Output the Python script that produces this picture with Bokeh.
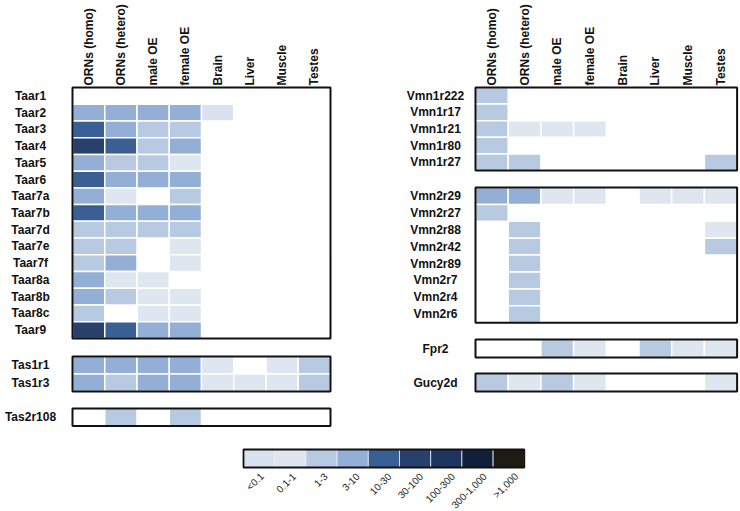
import numpy as np
from bokeh.plotting import figure
from bokeh.models import Range1d, ColumnDataSource
from bokeh.core.properties import value
from bokeh.embed import file_html
from bokeh.resources import INLINE

# ---------------- data ----------------
columns = ["ORNs (homo)", "ORNs (hetero)", "male OE", "female OE",
           "Brain", "Liver", "Muscle", "Testes"]
bins = ["<0.1", "0.1-1", "1-3", "3-10", "10-30", "30-100",
        "100-300", "300-1,000", ">1,000"]
bin_colors = ["#d9e2ee", "#dee6f0", "#b8c9e2", "#94afd5", "#3a5f94",
              "#27416c", "#1d355f", "#121f3c", "#1d1b12"]

# level codes: 0 = not detected, k = bins[k-1]
taar_genes = ["Taar1", "Taar2", "Taar3", "Taar4", "Taar5", "Taar6", "Taar7a",
              "Taar7b", "Taar7d", "Taar7e", "Taar7f", "Taar8a", "Taar8b",
              "Taar8c", "Taar9"]
taar_levels = [
    [0, 0, 0, 0, 0, 0, 0, 0],
    [4, 4, 4, 4, 1, 0, 0, 0],
    [5, 4, 3, 3, 0, 0, 0, 0],
    [6, 5, 3, 4, 0, 0, 0, 0],
    [4, 3, 3, 2, 0, 0, 0, 0],
    [5, 4, 4, 4, 0, 0, 0, 0],
    [4, 2, 0, 3, 0, 0, 0, 0],
    [5, 4, 4, 4, 0, 0, 0, 0],
    [3, 3, 3, 3, 0, 0, 0, 0],
    [3, 3, 0, 2, 0, 0, 0, 0],
    [3, 4, 0, 2, 0, 0, 0, 0],
    [4, 2, 2, 0, 0, 0, 0, 0],
    [4, 3, 2, 2, 0, 0, 0, 0],
    [3, 0, 2, 2, 0, 0, 0, 0],
    [6, 5, 4, 4, 0, 0, 0, 0],
]
tas1r_genes = ["Tas1r1", "Tas1r3"]
tas1r_levels = [
    [4, 4, 4, 4, 2, 0, 2, 3],
    [4, 3, 4, 4, 2, 2, 2, 3],
]
tas2r_genes = ["Tas2r108"]
tas2r_levels = [[0, 3, 0, 3, 0, 0, 0, 0]]

vmn1r_genes = ["Vmn1r222", "Vmn1r17", "Vmn1r21", "Vmn1r80", "Vmn1r27"]
vmn1r_levels = [
    [3, 0, 0, 0, 0, 0, 0, 0],
    [3, 0, 0, 0, 0, 0, 0, 0],
    [3, 2, 2, 2, 0, 0, 0, 0],
    [3, 0, 0, 0, 0, 0, 0, 0],
    [3, 3, 0, 0, 0, 0, 0, 3],
]
vmn2r_genes = ["Vmn2r29", "Vmn2r27", "Vmn2r88", "Vmn2r42", "Vmn2r89",
               "Vmn2r7", "Vmn2r4", "Vmn2r6"]
vmn2r_levels = [
    [4, 4, 2, 2, 0, 2, 2, 2],
    [3, 0, 0, 0, 0, 0, 0, 0],
    [0, 3, 0, 0, 0, 0, 0, 2],
    [0, 3, 0, 0, 0, 0, 0, 3],
    [0, 3, 0, 0, 0, 0, 0, 0],
    [0, 3, 0, 0, 0, 0, 0, 0],
    [0, 3, 0, 0, 0, 0, 0, 0],
    [0, 3, 0, 0, 0, 0, 0, 0],
]
fpr_genes = ["Fpr2"]
fpr_levels = [[0, 0, 3, 2, 0, 3, 2, 2]]
gucy_genes = ["Gucy2d"]
gucy_levels = [[3, 2, 3, 2, 0, 0, 0, 2]]

# ---------------- layout (page pixels) ----------------
W, H = 740, 511
FONT = "Liberation Sans"


def X(px):
    return px


def Y(py):
    return H - py


left_panel = dict(x0=72.0, cw=32.25, label_x=30.0)
right_panel = dict(x0=475.0, cw=32.7, label_x=435.0)

blocks = [
    (taar_genes, taar_levels, left_panel, 87.0, 16.73),
    (tas1r_genes, tas1r_levels, left_panel, 356.0, 17.5),
    (tas2r_genes, tas2r_levels, left_panel, 408.0, 17.5),
    (vmn1r_genes, vmn1r_levels, right_panel, 87.0, 16.6),
    (vmn2r_genes, vmn2r_levels, right_panel, 187.0, 16.9),
    (fpr_genes, fpr_levels, right_panel, 339.0, 18.0),
    (gucy_genes, gucy_levels, right_panel, 373.0, 18.0),
]

p = figure(width=W, height=H, output_backend="svg", toolbar_location=None,
           x_range=Range1d(0, W), y_range=Range1d(0, H),
           min_border=0, min_border_left=0, min_border_right=0,
           min_border_top=0, min_border_bottom=0)
p.axis.visible = False
p.grid.visible = False
p.outline_line_color = None
p.background_fill_color = "white"
p.border_fill_color = "white"

cell = dict(left=[], right=[], top=[], bottom=[], color=[])
boxes = dict(left=[], right=[], top=[], bottom=[])
rlab = dict(x=[], y=[], text=[])

for genes, levels, panel, top, rh in blocks:
    x0, cw = panel["x0"], panel["cw"]
    arr = np.array(levels)
    for i, g in enumerate(genes):
        yt = top + i * rh
        rlab["x"].append(X(panel["label_x"]))
        rlab["y"].append(Y(yt + rh / 2))
        rlab["text"].append(g)
        for j in range(len(columns)):
            lv = int(arr[i, j])
            if lv == 0:
                continue
            cell["left"].append(X(x0 + j * cw))
            cell["right"].append(X(x0 + (j + 1) * cw))
            cell["top"].append(Y(yt))
            cell["bottom"].append(Y(yt + rh))
            cell["color"].append(bin_colors[lv - 1])
    boxes["left"].append(X(x0))
    boxes["right"].append(X(x0 + len(columns) * panel["cw"]))
    boxes["top"].append(Y(top))
    boxes["bottom"].append(Y(top + len(genes) * rh))

p.quad(left="left", right="right", top="top", bottom="bottom",
       fill_color="color", line_color="white", line_width=1.5,
       source=ColumnDataSource(cell))
p.quad(left="left", right="right", top="top", bottom="bottom",
       fill_color=None, line_color="#111111", line_width=2,
       source=ColumnDataSource(boxes))

p.text(x="x", y="y", text="text", source=ColumnDataSource(rlab),
       text_font=value(FONT), text_font_style="bold",
       text_font_size="12px", text_align="center",
       text_baseline="middle", text_color="#111111")

# column headers
clab = dict(x=[], y=[], text=[])
for panel in (left_panel, right_panel):
    for j, c in enumerate(columns):
        clab["x"].append(X(panel["x0"] + (j + 0.5) * panel["cw"]))
        clab["y"].append(Y(85))
        clab["text"].append(c)
p.text(x="x", y="y", text="text", source=ColumnDataSource(clab),
       angle=np.pi / 2, text_font=value(FONT), text_font_style="bold",
       text_font_size="12px", text_align="left", text_baseline="middle",
       text_color="#111111")

# colour legend
cb_x0, cb_w, cb_top, cb_bot = 243.0, 31.2, 449.0, 467.0
leg = dict(left=[], right=[], top=[], bottom=[], color=[])
llab = dict(x=[], y=[], text=[])
for k, b in enumerate(bins):
    leg["left"].append(X(cb_x0 + k * cb_w))
    leg["right"].append(X(cb_x0 + (k + 1) * cb_w))
    leg["top"].append(Y(cb_top))
    leg["bottom"].append(Y(cb_bot))
    leg["color"].append(bin_colors[k])
    llab["x"].append(X(cb_x0 + (k + 0.5) * cb_w + 3 + k * 0.6))
    llab["y"].append(Y(474))
    llab["text"].append(b)
p.quad(left="left", right="right", top="top", bottom="bottom",
       fill_color="color", line_color="#e8edf4", line_width=0.8,
       source=ColumnDataSource(leg))
p.quad(left=X(cb_x0), right=X(cb_x0 + len(bins) * cb_w), top=Y(cb_top),
       bottom=Y(cb_bot), fill_color=None, line_color="#111111", line_width=1.8)
p.text(x="x", y="y", text="text", source=ColumnDataSource(llab),
       angle=np.pi / 4, text_font=value(FONT), text_font_size="10px",
       text_align="right", text_baseline="middle", text_color="#222222")

open("out.html", "w").write(file_html(p, INLINE))
